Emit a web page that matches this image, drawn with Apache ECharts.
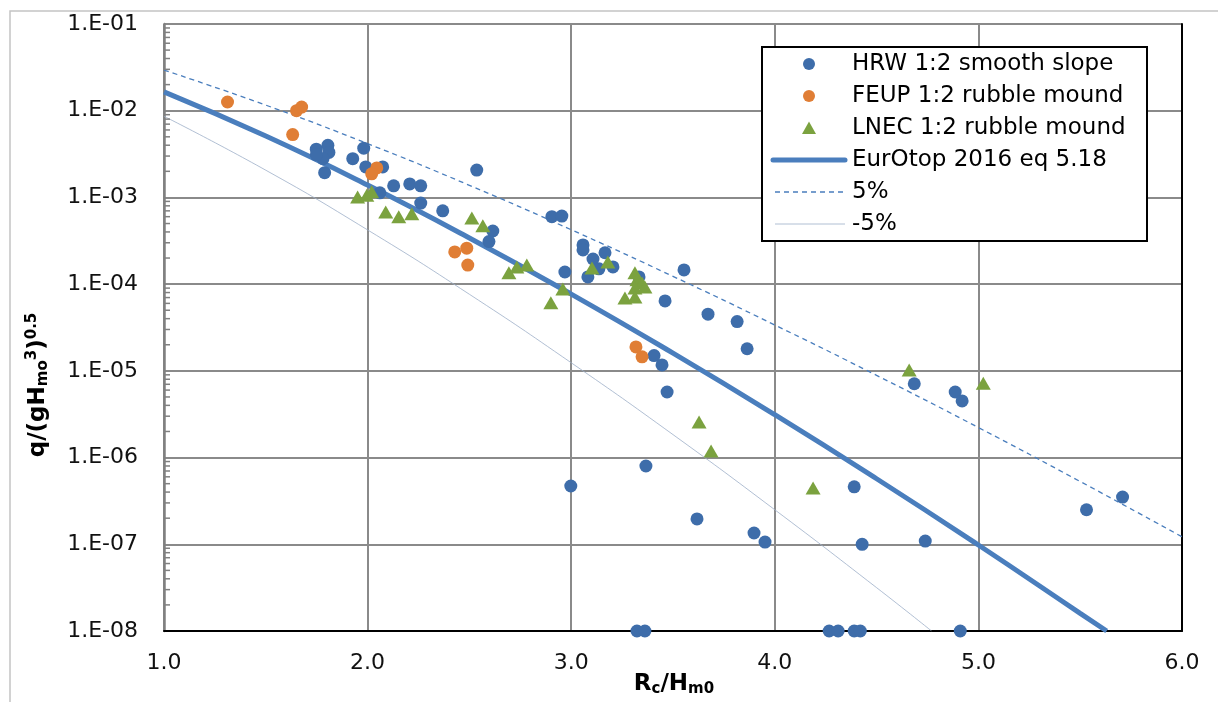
<!DOCTYPE html>
<html><head><meta charset="utf-8">
<script src="https://cdn.jsdelivr.net/npm/echarts@6/dist/echarts.min.js"></script>
<style>html,body{margin:0;padding:0;background:#fff}#c{width:1218px;height:702px}</style>
</head><body><div id="c"></div>
<script>
// ---------- data ----------
const hrwX = [1.748,1.805,1.810,1.781,1.748,1.789,1.927,1.981,1.991,2.074,2.060,2.128,2.207,2.261,2.261,2.369,2.536,2.615,2.596,2.905,2.954,2.969,3.058,3.058,3.107,3.166,3.136,3.205,3.082,3.333,3.554,3.461,3.672,3.815,3.864,3.407,3.446,3.471,4.685,4.886,4.920,2.998,3.367,3.618,3.898,3.952,4.390,4.429,4.739,5.531,5.708,3.323,3.362,4.267,4.311,4.390,4.420,4.911];
const hrwY = [3.6e-3,4.0e-3,3.3e-3,2.8e-3,3.1e-3,1.93e-3,2.8e-3,3.7e-3,2.25e-3,2.25e-3,1.13e-3,1.36e-3,1.43e-3,1.36e-3,8.6e-4,7.0e-4,2.07e-3,4.1e-4,3.1e-4,6.0e-4,6.1e-4,1.38e-4,2.83e-4,2.48e-4,1.95e-4,2.3e-4,1.5e-4,1.58e-4,1.21e-4,1.21e-4,1.46e-4,6.4e-5,4.5e-5,3.7e-5,1.8e-5,1.5e-5,1.17e-5,5.7e-6,7.1e-6,5.7e-6,4.5e-6,4.7e-7,8.0e-7,1.96e-7,1.35e-7,1.06e-7,4.6e-7,1.0e-7,1.09e-7,2.5e-7,3.5e-7,1e-8,1e-8,1e-8,1e-8,1e-8,1e-8,1e-8];

const feupX = [1.312,1.651,1.676,1.632,2.045,2.020,2.428,2.487,2.492,3.318,3.348];
const feupY = [1.26e-2,1.0e-2,1.1e-2,5.3e-3,2.19e-3,1.87e-3,2.35e-4,2.6e-4,1.66e-4,1.89e-5,1.45e-5];

const lnecX = [1.951,1.996,2.020,2.089,2.153,2.217,2.512,2.566,2.694,2.733,2.782,2.900,2.959,3.102,3.180,3.313,3.323,3.348,3.362,3.313,3.264,3.313,4.660,5.024,3.628,3.687,4.188];
const lnecY = [1.01e-3,1.06e-3,1.16e-3,6.8e-4,6.0e-4,6.5e-4,5.8e-4,4.7e-4,1.35e-4,1.58e-4,1.66e-4,6.1e-5,8.8e-5,1.54e-4,1.8e-4,1.35e-4,1.12e-4,1.03e-4,9.3e-5,9.0e-5,6.9e-5,7.1e-5,1.02e-5,7.2e-6,2.58e-6,1.19e-6,4.45e-7];

const eqX = [1.0,1.5,2.0,2.5,3.0,3.5,4.0,4.5,5.0,5.5,5.63];
const eqY = [1.65e-2,5.10e-3,1.39e-3,3.41e-4,7.68e-5,1.60e-5,3.12e-6,5.70e-7,9.81e-8,1.60e-8,1.0e-8];

const upX = [1.0,1.5,2.0,2.5,3.0,3.5,4.0,4.5,5.0,5.5,6.0];
const upY = [2.94e-2,1.16e-2,4.17e-3,1.38e-3,4.24e-4,1.23e-4,3.38e-5,8.87e-6,2.22e-6,5.30e-7,1.22e-7];

const loX = [1.0,1.5,2.0,2.5,3.0,3.5,4.0,4.5,4.77];
const loY = [8.63e-3,2.06e-3,4.22e-4,7.64e-5,1.24e-5,1.84e-6,2.50e-7,3.16e-8,1.0e-8];

const xTickValues = [1,2,3,4,5,6];
const yDecades = [-8,-7,-6,-5,-4,-3,-2,-1];
const yMinorFactors = [2,3,4,5,6,7,8,9];

const names = ['HRW 1:2 smooth slope','FEUP 1:2 rubble mound','LNEC 1:2 rubble mound','EurOtop 2016 eq 5.18','5%','-5%'];

// ---------- build ----------
const zip = (a,b) => a.map((v,i)=>[v,b[i]]);
const minorTicks = [];
yDecades.slice(0,-1).forEach(e => yMinorFactors.forEach(f => minorTicks.push([1, f*Math.pow(10,e)])));

const FONT = 'DejaVu Sans';
const cBlue = '#3E6DAA', cOrange = '#E07E35', cGreen = '#7BA23F', cLine = '#4A7EBD', cLight = '#9DAFC8';

const chart = echarts.init(document.getElementById('c'), null, {renderer:'canvas'});
const option = {
  animation:false,
  backgroundColor:'#fff',
  textStyle:{fontFamily:FONT},
  grid:{left:164,right:36,top:24,bottom:71,containLabel:false},
  xAxis:{
    type:'value',min:1,max:6,interval:1,
    axisLine:{show:true,onZero:false,lineStyle:{color:'#000',width:2}},
    axisTick:{show:false},
    axisLabel:{color:'#111',fontSize:22,fontFamily:FONT,margin:21,formatter:v=>v.toFixed(1)},
    splitLine:{show:true,lineStyle:{color:'#8a8a8a',width:2}}
  },
  yAxis:[{
    type:'log',logBase:10,min:1e-8,max:1e-1,
    axisLine:{show:true,lineStyle:{color:'#808080',width:2.5}},
    axisTick:{show:false},
    axisLabel:{color:'#111',fontSize:22,fontFamily:FONT,margin:26,
      formatter:v=>{const e=Math.round(Math.log10(v));return '1.E-0'+(-e);}},
    splitLine:{show:true,lineStyle:{color:'#8a8a8a',width:2}}
  },{
    type:'log',logBase:10,min:1e-8,max:1e-1,position:'right',
    axisLine:{show:true,lineStyle:{color:'#000',width:2}},
    axisTick:{show:false},axisLabel:{show:false},splitLine:{show:false}
  }],
  series:[
    {type:'custom',silent:true,z:3,data:minorTicks,
      renderItem:(params,api)=>{const p=api.coord([api.value(0),api.value(1)]);
        return {type:'line',shape:{x1:p[0],y1:p[1],x2:p[0]+6,y2:p[1]},style:{stroke:'#808080',lineWidth:1.5}};}},
    {name:names[5],type:'line',data:zip(loX,loY),smooth:true,symbol:'none',z:2,
      lineStyle:{color:cLight,width:0.8}},
    {name:names[4],type:'line',data:zip(upX,upY),smooth:true,symbol:'none',z:2,
      lineStyle:{color:cLine,width:1.3,type:[5,4]}},
    {name:names[3],type:'line',data:zip(eqX,eqY),smooth:true,symbol:'none',z:3,
      lineStyle:{color:cLine,width:5}},
    {name:names[0],type:'scatter',data:zip(hrwX,hrwY),symbol:'circle',symbolSize:13,clip:false,z:5,
      itemStyle:{color:cBlue,opacity:1}},
    {name:names[1],type:'scatter',data:zip(feupX,feupY),symbol:'circle',symbolSize:13,clip:false,z:5,
      itemStyle:{color:cOrange,opacity:1}},
    {name:names[2],type:'scatter',data:zip(lnecX,lnecY),symbol:'triangle',symbolSize:[15,13],clip:false,z:5,
      itemStyle:{color:cGreen,opacity:1}}
  ],
  graphic:[]
};

// legend, drawn as real text
const LX = 762, LY = 47, rowY = i => 64 + 32*i, iconC = 809, textX = 852;
const g = [];
g.push({type:'rect',z:100,shape:{x:10,y:11,width:1240,height:720},style:{fill:null,stroke:'#c4c4c4',lineWidth:1.5},silent:true});
g.push({type:'rect',z:100,shape:{x:LX,y:LY,width:385,height:194},style:{fill:'#fff',stroke:'#000',lineWidth:2}});
g.push({type:'circle',z:101,shape:{cx:iconC,cy:rowY(0),r:6},style:{fill:cBlue}});
g.push({type:'circle',z:101,shape:{cx:iconC,cy:rowY(1),r:6},style:{fill:cOrange}});
g.push({type:'polygon',z:101,shape:{points:[[iconC,rowY(2)-6.5],[iconC-7,rowY(2)+6],[iconC+7,rowY(2)+6]]},style:{fill:cGreen}});
g.push({type:'line',z:101,shape:{x1:773,y1:rowY(3),x2:845,y2:rowY(3)},style:{stroke:cLine,lineWidth:5,lineCap:'round'}});
g.push({type:'line',z:101,shape:{x1:775,y1:rowY(4),x2:845,y2:rowY(4)},style:{stroke:cLine,lineWidth:1.3,lineDash:[5,4]}});
g.push({type:'line',z:101,shape:{x1:775,y1:rowY(5),x2:845,y2:rowY(5)},style:{stroke:cLight,lineWidth:0.8}});
names.forEach((n,i)=>g.push({type:'text',z:101,x:textX,y:rowY(i),
  style:{text:n,fill:'#000',font:'23px "'+FONT+'"',textAlign:'left',textVerticalAlign:'middle'}}));

// axis titles
g.push({type:'text',z:101,x:674,y:684,
  style:{text:'{b|R}{s|c}{b|/H}{s|m0}',textAlign:'center',textVerticalAlign:'middle',
    rich:{b:{fontFamily:FONT,fontWeight:'bold',fontSize:23,fill:'#000',color:'#000'},
          s:{fontFamily:FONT,fontWeight:'bold',fontSize:15,fill:'#000',color:'#000',padding:[10,0,0,0]}}}});
g.push({type:'text',z:101,x:38,y:385,rotation:Math.PI/2,
  style:{text:'{b|q/(gH}{s|mo}{p|3}{b|)}{p|0.5}',textAlign:'center',textVerticalAlign:'middle',
    rich:{b:{fontFamily:FONT,fontWeight:'bold',fontSize:23,fill:'#000',color:'#000'},
          s:{fontFamily:FONT,fontWeight:'bold',fontSize:15,fill:'#000',color:'#000',padding:[10,0,0,0]},
          p:{fontFamily:FONT,fontWeight:'bold',fontSize:15,fill:'#000',color:'#000',padding:[0,0,12,0]}}}});
option.graphic = g;
chart.setOption(option);
</script>
</body></html>
